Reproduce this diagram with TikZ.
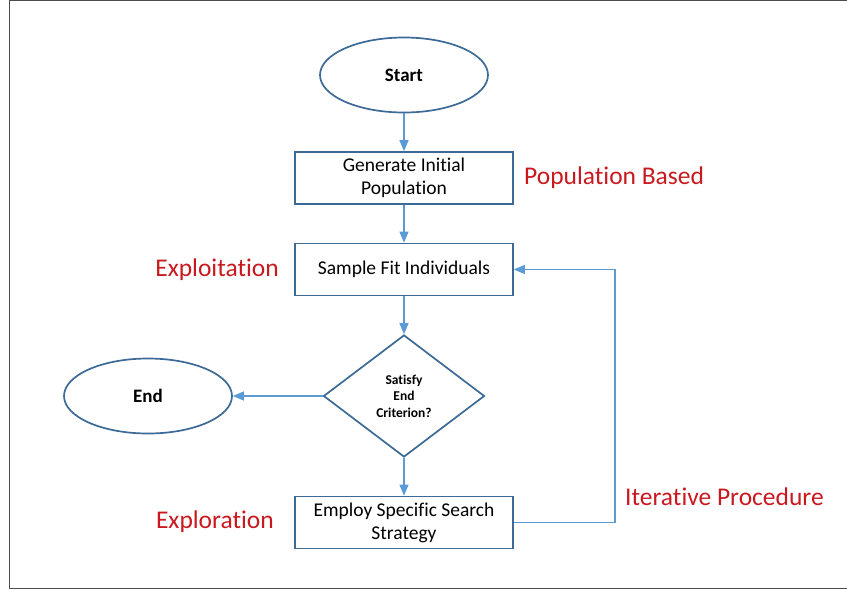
\documentclass[tikz,border=0pt]{standalone}
\usepackage{fontspec}
\setmainfont{Carlito}[Ligatures={NoCommon}]
\usepackage{xcolor}
\usetikzlibrary{arrows}
\usetikzlibrary{shapes.geometric, positioning}
\definecolor{boxblue}{RGB}{60,105,150}
\definecolor{linkblue}{RGB}{91,155,213}
\definecolor{notered}{RGB}{200,25,30}

\begin{document}
\begin{tikzpicture}[x=1pt, y=-1pt,
    term/.style={ellipse, draw=boxblue, line width=1.7pt, minimum width=168pt, minimum height=75pt, inner sep=0pt, font=\fontsize{19}{22}\selectfont\bfseries},
    proc/.style={rectangle, draw=boxblue, line width=1.7pt, minimum width=218pt, minimum height=52pt, inner sep=0pt, align=center, font=\fontsize{19.5}{23}\selectfont},
    test/.style={diamond, draw=boxblue, line width=1.7pt, minimum width=161pt, minimum height=122pt, inner sep=0pt, align=center, font=\fontsize{13.5}{16.5}\selectfont\bfseries},
    link/.style={draw=linkblue, line width=1.6pt, -triangle 45},
    note/.style={text=notered, inner sep=0pt, font=\fontsize{25.5}{30}\selectfont}]
      \useasboundingbox (0, 0) rectangle (847, 590);
      \draw[black!70, line width=1.2pt] (848, 0.6) -- (9.5, 0.6) -- (9.5, 588.4) -- (848, 588.4);

      \node[term] (start) at (404, 75) {Start};
      \node[proc] (init) at (404, 178) {Generate Initial\\Population};
      \node[proc] (sample) at (404, 269.5) {Sample Fit Individuals};
      \node[test] (check) at (404, 396) {Satisfy\\End\\Criterion?};
      \node[term] (finish) at (148, 396) {End};
      \node[proc] (search) at (404, 522.5) {Employ Specific Search\\Strategy};
      \coordinate (loop) at (615, 522.5);

      \draw[link] (start) -- (init);
      \draw[link] (init) -- (sample);
      \draw[link] (sample) -- (check);
      \draw[link] (check) -- (finish);
      \draw[link] (check) -- (search);
      \draw[link] (search.east) -- (loop) |- (sample.east);

      \node[note, anchor=west] (based) at (524, 178) {Population Based};
      \node[note, anchor=east] (exploit) at (279, 270) {Exploitation};
      \node[note, anchor=east] (explore) at (274, 522) {Exploration};
      \node[note, anchor=west] (iter) at (625, 497) {Iterative Procedure};
    \end{tikzpicture}
\end{document}
